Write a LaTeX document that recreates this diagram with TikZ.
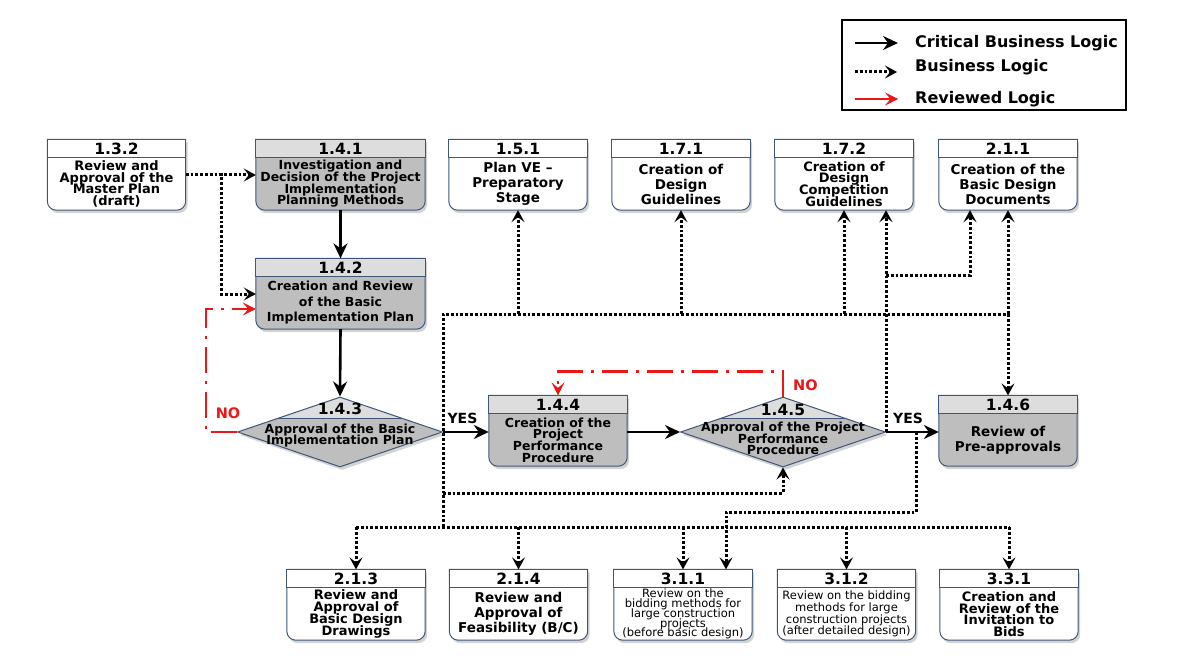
\documentclass[tikz,border=0pt]{standalone}
\usepackage{fontspec}
\setmainfont{DejaVu Sans}
\usepackage{tikz}
\usetikzlibrary{arrows.meta,backgrounds,positioning,shapes.geometric,shadows}
\lineskiplimit=-20pt

\definecolor{edgeblue}{RGB}{62,86,120}
\definecolor{bodygray}{RGB}{190,190,190}
\definecolor{headgray}{RGB}{221,221,221}
\definecolor{revred}{RGB}{236,22,22}

\tikzset{
  task/.style={minimum width=138pt, minimum height=52pt, inner sep=1pt, align=center, font=\bfseries\fontsize{13.5}{15}\selectfont},
  tight/.style={font=\bfseries\fontsize{13}{11.7}\selectfont},
  small/.style={inner sep=0pt, font=\fontsize{11.5}{9.9}\selectfont},
  wide/.style={minimum width=169pt},
  head/.style={minimum width=138pt, minimum height=18pt, inner sep=0pt, font=\bfseries\fontsize{15.5}{15.5}\selectfont},
  outline/.style={draw=edgeblue, line width=1pt},
  boxshadow/.style={drop shadow={shadow xshift=2pt, shadow yshift=-3pt, opacity=0.35}},
  decision/.style={diamond, outline, boxshadow, fill=bodygray, minimum width=205pt, minimum height=70pt, inner sep=0pt,
    path picture={\fill[headgray] (path picture bounding box.north west) rectangle ([yshift=-21pt]path picture bounding box.north east);
      \draw[edgeblue, line width=1pt] ([yshift=-21pt]path picture bounding box.north west) -- ([yshift=-21pt]path picture bounding box.north east);}},
  dtext/.style={align=center, inner sep=0pt, font=\bfseries\fontsize{12.5}{11.7}\selectfont},
  crit/.style={line width=2.6pt, -{Stealth[length=15pt,width=14pt,inset=5pt]}},
  bizlogic/.style={line width=3pt, dash pattern=on 2.8pt off 2pt, -{Stealth[length=12pt,width=13pt,inset=5pt]}},
  revlogic/.style={revred, line width=2.2pt, dash pattern=on 26pt off 8pt on 3pt off 8pt, -{Stealth[length=13pt,width=13pt,inset=5.5pt]}},
  yeslabel/.style={inner sep=0pt, font=\bfseries\fontsize{14}{14}\selectfont},
  nolabel/.style={inner sep=0pt, text=revred, font=\bfseries\fontsize{14.5}{14.5}\selectfont},
  legtext/.style={inner sep=0pt, anchor=west, font=\bfseries\fontsize{16}{16}\selectfont}
}

\begin{document}
\begin{tikzpicture}[x=1pt, y=1pt]
\useasboundingbox (0,0) rectangle (1181,-666);

% top row
\node[task, tight] (b132) at (116.5,-184) {Review and\\Approval of the\\Master Plan\\(draft)};
\node[head, above=0pt of b132] (h132) {1.3.2};
\node[task, wide, font=\bfseries\fontsize{12.5}{11.7}\selectfont] (b141) at (340.5,-184) {Investigation and\\Decision of the Project\\Implementation\\Planning Methods};
\node[head, wide, above=0pt of b141] (h141) {1.4.1};
\node[task] (b151) at (518,-184) {Plan VE --\\Preparatory\\Stage};
\node[head, above=0pt of b151] (h151) {1.5.1};
\node[task] (b171) at (681,-184) {Creation of\\Design\\Guidelines};
\node[head, above=0pt of b171] (h171) {1.7.1};
\node[task, tight] (b172) at (844,-184) {Creation of\\Design\\Competition\\Guidelines};
\node[head, above=0pt of b172] (h172) {1.7.2};
\node[task] (b211) at (1008,-184) {Creation of the\\Basic Design\\Documents};
\node[head, above=0pt of b211] (h211) {2.1.1};

% middle
\node[task, wide, font=\bfseries\fontsize{12.5}{15.5}\selectfont] (b142) at (340.5,-303) {Creation and Review\\of the Basic\\Implementation Plan};
\node[head, wide, above=0pt of b142] (h142) {1.4.2};
\node[decision] (d143) at (340,-432) {};
\node[head, minimum width=0pt] (n143) at ([yshift=-12pt]d143.north) {1.4.3};
\node[dtext] (t143) at ([yshift=-3.5pt]d143.center) {Approval of the Basic\\Implementation Plan};
\node[task, font=\bfseries\fontsize{12.5}{11.7}\selectfont] (b144) at (558,-440) {Creation of the\\Project\\Performance\\Procedure};
\node[head, above=0pt of b144] (h144) {1.4.4};
\node[decision] (d145) at (783,-432) {};
\node[head, minimum width=0pt] (n145) at ([yshift=-13pt]d145.north) {1.4.5};
\node[dtext] (t145) at ([yshift=-6.5pt]d145.center) {Approval of the Project\\Performance\\Procedure};
\node[task] (b146) at (1008,-440) {Review of\\Pre-approvals};
\node[head, above=0pt of b146] (h146) {1.4.6};

% bottom row
\node[task, tight] (b213) at (356,-614) {Review and\\Approval of\\Basic Design\\Drawings};
\node[head, above=0pt of b213] (h213) {2.1.3};
\node[task] (b214) at (518.5,-614) {Review and\\Approval of\\Feasibility (B/C)};
\node[head, above=0pt of b214] (h214) {2.1.4};
\node[task, small] (b311) at (683,-614) {Review on the\\bidding methods for\\large construction\\projects\\(before basic design)};
\node[head, above=0pt of b311] (h311) {3.1.1};
\node[task, small, font=\fontsize{11.5}{11.7}\selectfont] (b312) at (846.5,-614) {Review on the bidding\\methods for large\\construction projects\\(after detailed design)};
\node[head, above=0pt of b312] (h312) {3.1.2};
\node[task, tight] (b331) at (1009,-614) {Creation and\\Review of the\\Invitation to\\Bids};
\node[head, above=0pt of b331] (h331) {3.3.1};

\begin{scope}[on background layer]
\foreach \n/\hd/\bd in {132/white/white,141/headgray/bodygray,151/white/white,171/white/white,172/white/white,211/white/white,
  142/headgray/bodygray,144/headgray/bodygray,146/headgray/bodygray,
  213/white/white,214/white/white,311/white/white,312/white/white,331/white/white}{
  \draw[outline, boxshadow, fill=\bd] (h\n.north west) -- (h\n.north east) -- ([yshift=9pt]b\n.south east)
    arc[start angle=0, end angle=-90, radius=9pt] -- ([xshift=9pt]b\n.south west)
    arc[start angle=270, end angle=180, radius=9pt] -- cycle;
  \draw[outline, fill=\hd] (h\n.north west) rectangle (h\n.south east);
}
\end{scope}

% critical business logic
\draw[crit] (b141.south) -- (h142.north);
\draw[crit] (b142.south) -- (d143.north);
\draw[crit] (d143.east) -- (d143.east -| b144.west);
\draw[crit] (b144.east |- d145.west) -- (d145.west);
\draw[crit] (d145.east) -- (d145.east -| b146.west);

% business logic
\draw[bizlogic] ([yshift=9pt]b132.east) -- ([yshift=9pt]b141.west);
\draw[bizlogic] ([yshift=9pt]b132.east) -- ++(36pt,0) |- ([yshift=9pt]b142.west);
\coordinate (busup) at ([yshift=118pt]d143.east);
\coordinate (buslow) at ([yshift=-95pt]d143.east);
\draw[bizlogic, -] (buslow) -- (busup) -- (busup -| b211);
\draw[bizlogic, -] (buslow -| b213) -- (buslow -| b331);
\foreach \n in {151,171,172,211}
  \draw[bizlogic] (busup -| b\n) -- (b\n.south);
\draw[bizlogic] (busup -| h146) -- (h146.north);
\foreach \n in {213,214,311,312,331}
  \draw[bizlogic] (buslow -| h\n) -- (h\n.north);
\draw[bizlogic] ([yshift=-61pt]d143.east) -| (d145.south);
\draw[bizlogic] (d145.east) -- (d145.east |- b172.south);
\draw[bizlogic] ([yshift=-65pt]b172.south -| d145.east) -| ([xshift=-38pt]b211.south);
\draw[bizlogic] ([xshift=30pt]d145.east) -- ++(0,-80pt) -| ([xshift=43pt]h311.north);

% reviewed logic
\draw[revlogic] (d143.west) -- ++(-31pt,0) |- ([yshift=-6pt]b142.west);
\draw[revlogic] (d145.north) -- ++(0,25pt) -| (h144.north);

\node[yeslabel] (yes143) at ([xshift=19.5pt, yshift=14pt]d143.east) {YES};
\node[yeslabel] (yes145) at ([xshift=22pt, yshift=14pt]d145.east) {YES};
\node[nolabel] (no143) at ([xshift=-9pt, yshift=19pt]d143.west) {NO};
\node[nolabel, anchor=west] (no145) at ([xshift=10pt, yshift=11pt]d145.north) {NO};

% legend
\draw[line width=1.6pt] (842,-20) rectangle (1126,-110);
\node[legtext] (lg1) at (915,-43) {Critical Business Logic};
\node[legtext] (lg2) at (915,-67) {Business Logic};
\node[legtext] (lg3) at (915,-99) {Reviewed Logic};
\draw[crit] ([xshift=-60pt]lg1.west) -- ([xshift=-17pt]lg1.west);
\draw[bizlogic] ([xshift=-60pt, yshift=-5pt]lg2.west) -- ([xshift=-18pt, yshift=-5pt]lg2.west);
\draw[revlogic, solid] ([xshift=-60pt]lg3.west) -- ([xshift=-17pt]lg3.west);
\end{tikzpicture}
\end{document}
